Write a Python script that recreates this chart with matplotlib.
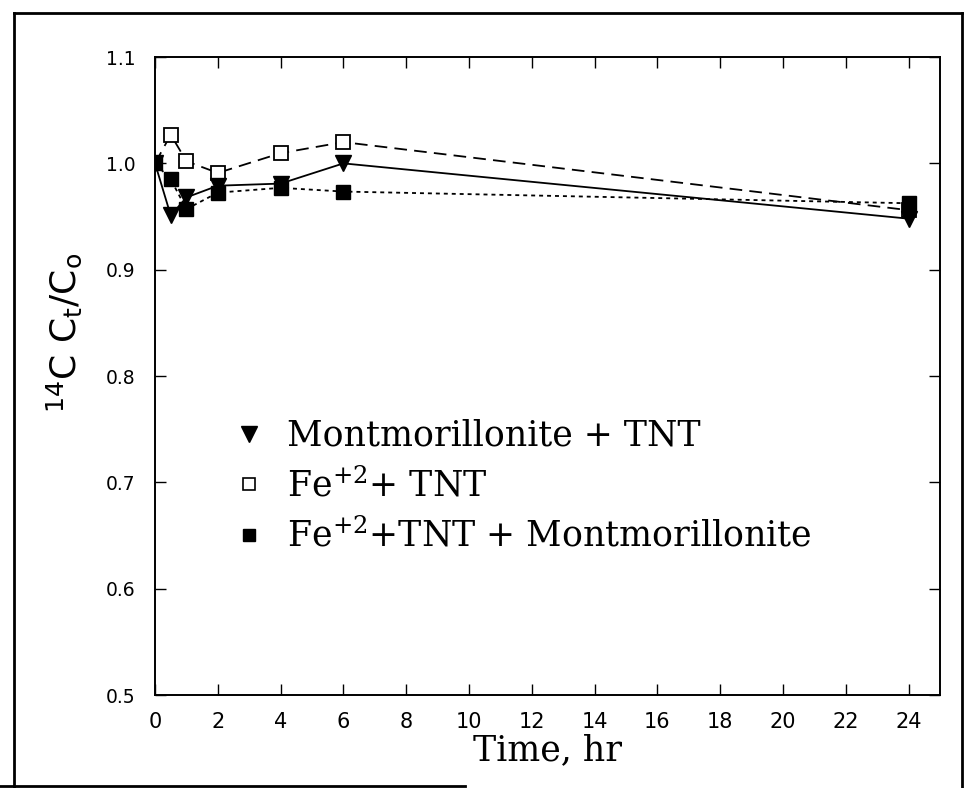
import matplotlib
matplotlib.use('Agg')
import matplotlib.pyplot as plt
from matplotlib.lines import Line2D

# mathtext: serif for the legend, sans available through \mathsf
plt.rcParams['mathtext.fontset'] = 'custom'
plt.rcParams['mathtext.rm'] = 'DejaVu Serif'
plt.rcParams['mathtext.it'] = 'DejaVu Serif:italic'
plt.rcParams['mathtext.sf'] = 'DejaVu Sans'

# Data
time_hr = [0, 0.5, 1, 2, 4, 6, 24]
mont_tnt = [1.0, 0.951, 0.968, 0.979, 0.981, 1.0, 0.948]
fe_tnt = [1.0, 1.027, 1.002, 0.991, 1.0096, 1.02, 0.956]
fe_tnt_mont = [1.0, 0.985, 0.957, 0.9725, 0.977, 0.9735, 0.9625]

labels = ['Montmorillonite + TNT',
          r'Fe$^{+2}$+ TNT',
          r'Fe$^{+2}$+TNT + Montmorillonite']

x_ticks = list(range(0, 25, 2))
y_ticks = [0.5, 0.6, 0.7, 0.8, 0.9, 1.0, 1.1]

fig = plt.figure(figsize=(9.66, 7.88), dpi=100)
ax = fig.add_axes([0.1605, 0.118, 0.8125, 0.8096])

# series (open squares under the others, filled squares on top)
ax.plot(time_hr, fe_tnt, color='k', lw=1.3, dashes=(7, 4),
        marker='s', ms=10.5, mfc='white', mec='k', mew=1.3, zorder=3)
ax.plot(time_hr, mont_tnt, color='k', lw=1.3, ls='-',
        marker='v', ms=12, mfc='k', mec='k', zorder=4)
ax.plot(time_hr, fe_tnt_mont, color='k', lw=1.3, dashes=(2.2, 2.2),
        marker='s', ms=10.5, mfc='k', mec='k', zorder=5)

ax.set_xlim(0, 25)
ax.set_ylim(0.5, 1.1)
ax.set_xticks(x_ticks)
ax.set_yticks(y_ticks)
ax.set_yticklabels([f'{v:.1f}' for v in y_ticks])
ax.tick_params(direction='in', length=8, width=1.0, top=True, right=True)
ax.tick_params(axis='x', labelsize=15, pad=12)
ax.tick_params(axis='y', labelsize=13.5, pad=14)
for s in ax.spines.values():
    s.set_linewidth(1.4)

ax.set_xlabel('Time, hr', family='DejaVu Serif', fontsize=25, labelpad=1)
fig.text(0.066, 0.577, r'$^{\mathsf{14}}$C C$_{\mathsf{t}}$/C$_{\mathsf{o}}$',
         rotation=90, ha='center', va='center', fontsize=26,
         family='DejaVu Sans')

handles = [
    Line2D([], [], ls='none', marker='v', ms=12, color='k'),
    Line2D([], [], ls='none', marker='s', ms=9, mfc='white', mec='k', mew=1.2),
    Line2D([], [], ls='none', marker='s', ms=9, color='k'),
]
ax.legend(handles, labels, loc='upper left', bbox_to_anchor=(0.075, 0.46),
          frameon=False, borderpad=0, handlelength=1.0, handletextpad=0.6,
          labelspacing=0.43, prop={'family': 'DejaVu Serif', 'size': 25})

# scanned page frame
frame = dict(color='k', lw=2.0, transform=fig.transFigure)
fig.add_artist(Line2D([14 / 966, 14 / 966], [1 - 787 / 788, 1 - 13 / 788], **frame))
fig.add_artist(Line2D([14 / 966, 962 / 966], [1 - 13 / 788, 1 - 13 / 788], **frame))
fig.add_artist(Line2D([962 / 966, 962 / 966], [1 - 13 / 788, 1 - 787 / 788], **frame))
fig.add_artist(Line2D([0, 465 / 966], [1 - 786 / 788, 1 - 786 / 788], **frame))

fig.savefig('out.png', dpi=100)
